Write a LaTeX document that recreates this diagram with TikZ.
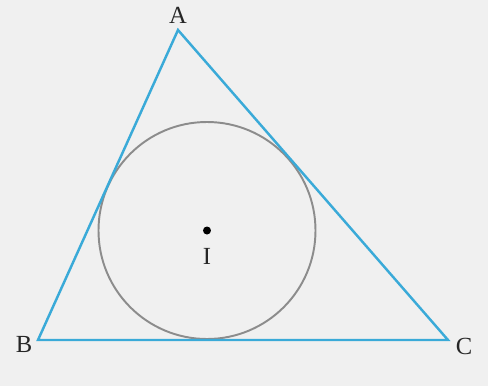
\documentclass[tikz,border=0pt]{standalone}
\usepackage{fontspec}
\setmainfont{Liberation Serif}
\usetikzlibrary{calc}

\definecolor{bgcol}{HTML}{F0F0F0}
\definecolor{sidecol}{HTML}{3AAAD8}
\definecolor{circcol}{HTML}{8C8C8C}

\begin{document}
\begin{tikzpicture}[
    x=0.02cm, y=-0.02cm,
    lbl/.style={font=\fontsize{14}{16}\selectfont, text=black!85, inner sep=0pt},
    side/.style={draw=sidecol, line width=1.4pt, line join=miter},
]

% background
\fill[bgcol] (0,0) rectangle (488,386);
\useasboundingbox (0,0) rectangle (488,386);

% vertices
\coordinate (A) at (178,30);
\coordinate (B) at (38,340);
\coordinate (C) at (448,340);

% incentre and incircle
\coordinate (I) at (207,230.5);
\draw[circcol, line width=1.1pt] (I) circle[radius=108.5];

% triangle
\draw[side] (A) -- (B) -- (C) -- cycle;

% centre dot
\fill[black] (I) circle[radius=4];

% labels
\node[lbl] (labA) at (178,15) {A};
\node[lbl] (labB) at (24,344) {B};
\node[lbl] (labC) at (464,346) {C};
\node[lbl] (labI) at (207,256) {I};

\end{tikzpicture}
\end{document}
